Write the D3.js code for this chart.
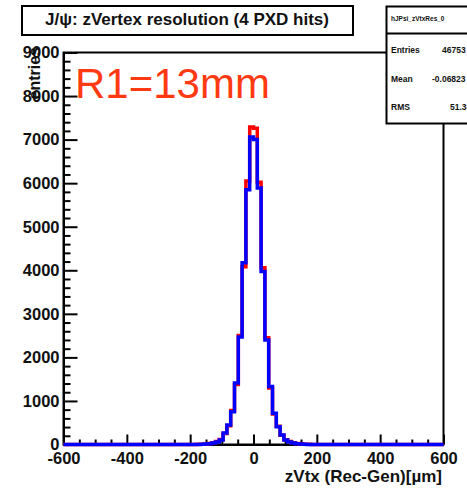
<!DOCTYPE html>
<html>
<head>
<meta charset="utf-8">
<script src="https://cdn.jsdelivr.net/npm/d3@7"></script>
<style>
  html, body { margin: 0; padding: 0; background: #fff; }
  svg { display: block; }
  text { font-family: "Liberation Sans", Arial, Helvetica, sans-serif; }
</style>
</head>
<body>
<script>
// ---------- data ----------
const titleText = "J/\u03c8: zVertex resolution (4 PXD hits)";
const xAxisTitle = "zVtx (Rec-Gen)[\u00b5m]";
const yAxisTitle = "entries";
const annotation = "R1=13mm";
const histName = "hJPsi_zVtxRes_0";
const statLabels = ["Entries", "Mean", "RMS"];
const statValues = ["46753", "-0.06823", "51.33"];

const xDomain = [-600, 600];
const yDomain = [0, 9000];
const xMajorTicks = [-600, -400, -200, 0, 200, 400, 600];
const yMajorTicks = [0, 1000, 2000, 3000, 4000, 5000, 6000, 7000, 8000, 9000];

// bin lower edges (12 µm bins from -600 to 600), listed
const binLow = [
 -600,-588,-576,-564,-552,-540,-528,-516,-504,-492,
 -480,-468,-456,-444,-432,-420,-408,-396,-384,-372,
 -360,-348,-336,-324,-312,-300,-288,-276,-264,-252,
 -240,-228,-216,-204,-192,-180,-168,-156,-144,-132,
 -120,-108,-96,-84,-72,-60,-48,-36,-24,-12,
 0,12,24,36,48,60,72,84,96,108,
 120,132,144,156,168,180,192,204,216,228,
 240,252,264,276,288,300,312,324,336,348,
 360,372,384,396,408,420,432,444,456,468,
 480,492,504,516,528,540,552,564,576,588
];
const binHigh = 600;

// blue histogram counts
const blueCounts = [
 0,0,0,0,0,0,0,0,0,0,
 0,0,0,0,0,0,0,0,0,0,
 0,0,0,0,0,0,0,0,0,0,
 0,0,0,0,0,2,5,10,20,35,
 60,105,265,450,750,1410,2470,4170,5850,7060,
 7000,5890,3970,2400,1330,720,410,220,105,60,
 35,20,10,5,2,0,0,0,0,0,
 0,0,0,0,0,0,0,0,0,0,
 0,0,0,0,0,0,0,0,0,0,
 0,0,0,0,0,0,0,0,0,0
];
// red histogram counts
const redCounts = [
 0,0,0,0,0,0,0,0,0,0,
 0,0,0,0,0,0,0,0,0,0,
 0,0,0,0,0,0,0,0,0,0,
 0,0,0,0,0,3,6,12,25,40,
 70,115,250,430,780,1380,2500,4080,6050,7290,
 7260,6020,4060,2450,1300,700,420,210,110,70,
 40,22,12,6,3,0,0,0,0,0,
 0,0,0,0,0,0,0,0,0,0,
 0,0,0,0,0,0,0,0,0,0,
 0,0,0,0,0,0,0,0,0,0
];

// ---------- layout ----------
const W = 467, H = 488;
const plot = { left: 63.5, right: 443.5, top: 52.5, bottom: 444.5 };

const svg = d3.select("body").append("svg").attr("width", W).attr("height", H);

const x = d3.scaleLinear().domain(xDomain).range([plot.left, plot.right]);
const y = d3.scaleLinear().domain(yDomain).range([plot.bottom, plot.top]);
const fmt = d => String(d);

// frame
svg.append("rect")
  .attr("x", plot.left).attr("y", plot.top)
  .attr("width", plot.right - plot.left).attr("height", plot.bottom - plot.top)
  .attr("fill", "none").attr("stroke", "#000").attr("stroke-width", 2);

// minor ticks
const yMinor = d3.range(0, 9001, 200).filter(v => v % 1000 !== 0);
const xMinor = d3.range(-600, 601, 50).filter(v => v % 200 !== 0);

svg.append("g").attr("transform", `translate(${plot.left},0)`)
  .call(d3.axisLeft(y).tickValues(yMinor).tickSize(-7).tickSizeOuter(0).tickFormat(""))
  .call(g => g.select(".domain").remove())
  .call(g => g.selectAll("line").attr("stroke-width", 2));

svg.append("g").attr("transform", `translate(0,${plot.bottom})`)
  .call(d3.axisBottom(x).tickValues(xMinor).tickSize(-5).tickSizeOuter(0).tickFormat(""))
  .call(g => g.select(".domain").remove())
  .call(g => g.selectAll("line").attr("stroke-width", 2));

// major axes
const yAxis = svg.append("g").attr("transform", `translate(${plot.left},0)`)
  .call(d3.axisLeft(y).tickValues(yMajorTicks).tickSize(-14).tickSizeOuter(0).tickPadding(4).tickFormat(fmt));
yAxis.select(".domain").attr("stroke-width", 2);
yAxis.selectAll("line").attr("stroke-width", 2);
yAxis.selectAll("text").attr("font-size", 16.5).attr("font-weight", "bold").attr("fill", "#111")
  .attr("font-family", "Liberation Sans, Arial, sans-serif");

const xAxis = svg.append("g").attr("transform", `translate(0,${plot.bottom})`)
  .call(d3.axisBottom(x).tickValues(xMajorTicks).tickSize(-10).tickSizeOuter(0).tickPadding(8).tickFormat(fmt));
xAxis.select(".domain").attr("stroke-width", 2);
xAxis.selectAll("line").attr("stroke-width", 2);
xAxis.selectAll("text").attr("font-size", 16.5).attr("font-weight", "bold").attr("fill", "#111")
  .attr("font-family", "Liberation Sans, Arial, sans-serif");

// histograms
const stepLine = d3.line()
  .x(d => x(d[0])).y(d => y(d[1]))
  .curve(d3.curveStepAfter);

function histPoints(counts) {
  const pts = binLow.map((lo, i) => [lo, counts[i]]);
  pts.push([binHigh, counts[counts.length - 1]]);
  return pts;
}

svg.append("path").datum(histPoints(redCounts))
  .attr("d", stepLine).attr("fill", "none")
  .attr("stroke", "#ff0000").attr("stroke-width", 3.5);

svg.append("path").datum(histPoints(blueCounts))
  .attr("d", stepLine).attr("fill", "none")
  .attr("stroke", "#0000ff").attr("stroke-width", 3.5);

// axis titles
svg.append("text")
  .attr("x", 442).attr("y", 482)
  .attr("text-anchor", "end")
  .attr("font-size", 17).attr("font-weight", "bold").attr("fill", "#111")
  .text(xAxisTitle);

svg.append("text")
  .attr("transform", "translate(40,47) rotate(-90)")
  .attr("text-anchor", "end")
  .attr("font-size", 16).attr("font-weight", "bold").attr("fill", "#111")
  .text(yAxisTitle);

// title box
svg.append("rect")
  .attr("x", 22).attr("y", 6).attr("width", 331).attr("height", 29)
  .attr("fill", "#fff").attr("stroke", "#000").attr("stroke-width", 2);
svg.append("text")
  .attr("x", 187).attr("y", 24.5)
  .attr("text-anchor", "middle")
  .attr("font-size", 17).attr("font-weight", "bold").attr("fill", "#111")
  .text(titleText);

// stats box
svg.append("rect")
  .attr("x", 386.5).attr("y", 6.5).attr("width", 90).attr("height", 117)
  .attr("fill", "#fff").attr("stroke", "#000").attr("stroke-width", 2);
svg.append("line")
  .attr("x1", 386.5).attr("x2", 470).attr("y1", 33.5).attr("y2", 33.5)
  .attr("stroke", "#000").attr("stroke-width", 2);
svg.append("text")
  .attr("x", 391).attr("y", 21)
  .attr("font-size", 6.5).attr("font-weight", "bold").attr("fill", "#111")
  .text(histName);

const statY = [53, 82, 110];
const statValX = [442, 432, 450];
statLabels.forEach((lab, i) => {
  svg.append("text")
    .attr("x", 391).attr("y", statY[i])
    .attr("font-size", 8.5).attr("font-weight", "bold").attr("fill", "#111")
    .text(lab);
  svg.append("text")
    .attr("x", statValX[i]).attr("y", statY[i])
    .attr("font-size", 8.5).attr("font-weight", "bold").attr("fill", "#111")
    .text(statValues[i]);
});

// annotation
svg.append("text")
  .attr("x", 75).attr("y", 98)
  .attr("font-size", 42).attr("fill", "#ff3a12")
  .text(annotation);
</script>
</body>
</html>
